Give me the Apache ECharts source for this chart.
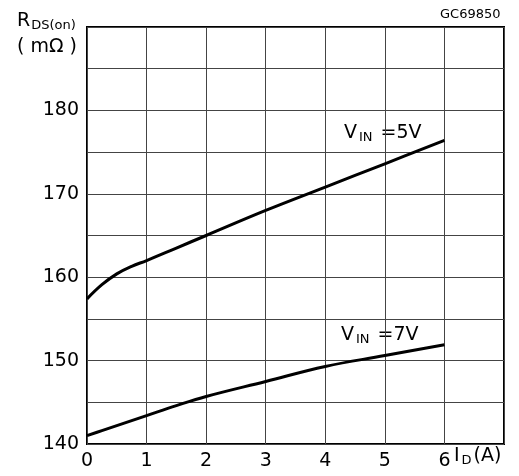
<!DOCTYPE html>
<html>
<head>
<meta charset="utf-8">
<script src="https://cdn.jsdelivr.net/npm/echarts@6/dist/echarts.min.js"></script>
<style>
  html, body { margin: 0; padding: 0; background: #fff; }
  #main { width: 519px; height: 476px; }
</style>
</head>
<body>
<div id="main"></div>
<script>
// drain current I_D (A)
var currentA = [0, 0.25, 0.5, 0.75, 1, 1.5, 2, 3, 4, 5, 6]
// R_DS(on) in mOhm
var rdsVin5 = [157.4, 159.1, 160.4, 161.3, 162.0, 163.5, 165.0, 168.0, 170.8, 173.6, 176.4]
var rdsVin7 = [141.0, 141.6, 142.2, 142.8, 143.4, 144.6, 145.7, 147.5, 149.3, 150.6, 151.9]
var xTicks = [0, 1, 2, 3, 4, 5, 6]
var yTicks = [140, 150, 160, 170, 180]

var font = 'DejaVu Sans'

function pairs(xs, ys) {
  return xs.map(function (x, i) { return [x, ys[i]] })
}

// rich text styles for main text + subscript
var richSub = {
  a: { fontFamily: font, fontSize: 19 },
  s: { fontFamily: font, fontSize: 13, padding: [8, 2, 0, 2] }
}

var myChart = echarts.init(document.getElementById('main'))
var option = {
  animation: false,
  backgroundColor: '#fff',
  grid: {
    left: 87, top: 27, right: 15, bottom: 32,
    show: true, borderColor: '#000', borderWidth: 2
  },
  xAxis: {
    type: 'value', min: 0, max: 7, interval: 1,
    axisLine: { show: false },
    axisTick: { show: false },
    splitLine: { show: true, lineStyle: { color: '#444', width: 1 } },
    axisLabel: {
      color: '#000', fontFamily: font, fontSize: 19, margin: 8,
      formatter: function (v) { return xTicks.indexOf(v) >= 0 ? String(v) : '' }
    }
  },
  yAxis: {
    type: 'value', min: 140, max: 190, interval: 5,
    axisLine: { show: false },
    axisTick: { show: false },
    splitLine: { show: true, lineStyle: { color: '#444', width: 1 } },
    axisLabel: {
      color: '#000', fontFamily: font, fontSize: 19, margin: 8,
      formatter: function (v) { return yTicks.indexOf(v) >= 0 ? String(v) : '' }
    }
  },
  series: [
    {
      name: 'VIN=5V', type: 'line', smooth: 0.4, symbol: 'none',
      lineStyle: { color: '#000', width: 3 },
      data: pairs(currentA, rdsVin5)
    },
    {
      name: 'VIN=7V', type: 'line', smooth: 0.4, symbol: 'none',
      lineStyle: { color: '#000', width: 3 },
      data: pairs(currentA, rdsVin7)
    }
  ],
  graphic: [
    {
      type: 'text', left: 440, top: 8,
      style: { text: 'GC69850', font: '13px ' + font, fill: '#000' }
    },
    {
      type: 'text', left: 17, top: 12,
      style: {
        text: '{a|R}{s|DS(on)}\n{a|( mΩ )}',
        fill: '#000',
        rich: {
          a: { fontFamily: font, fontSize: 19, lineHeight: 26 },
          s: { fontFamily: font, fontSize: 13, padding: [8, 0, 0, 1] }
        }
      }
    },
    {
      type: 'text', left: 454, top: 447,
      style: { text: '{a|I}{s|D}{a|(A)}', fill: '#000', rich: richSub }
    },
    {
      type: 'text', left: 344, top: 124,
      style: { text: '{a|V}{s|IN}{a| =5V}', fill: '#000', rich: richSub }
    },
    {
      type: 'text', left: 341, top: 326,
      style: { text: '{a|V}{s|IN}{a| =7V}', fill: '#000', rich: richSub }
    }
  ]
}
myChart.setOption(option)
</script>
</body>
</html>
